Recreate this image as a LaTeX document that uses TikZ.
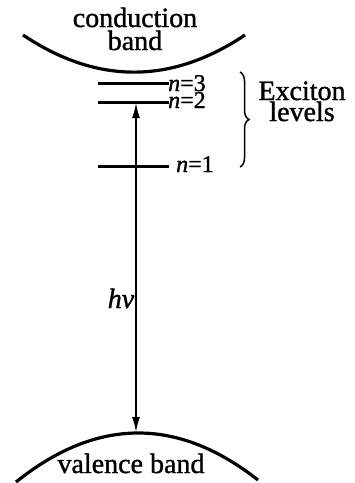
\documentclass[tikz,border=0pt]{standalone}
\usepackage{fontspec}
\setmainfont{Liberation Serif}[FakeBold=1.2]
\usetikzlibrary{arrows.meta,decorations.pathreplacing}
\begin{document}
\begin{tikzpicture}[x=1pt,y=-1pt,
  band/.style={line width=3.2pt},
  level/.style={line width=3pt},
  txt/.style={font=\fontsize{28}{30}\selectfont, inner sep=0pt, anchor=base},
  lab/.style={font=\fontsize{24}{26}\selectfont, inner sep=0pt, anchor=base west}]
\useasboundingbox (0,0) rectangle (355,483);
% bands
\coordinate (cbL) at (23,35);
\coordinate (cbR) at (245,35);
\draw[band] (cbL) .. controls (97,84.5) and (171,84.5) .. (cbR);
\node[txt] (cond) at (135,27) {conduction};
\node[txt] (cband) at (135,50) {band};
\coordinate (vbL) at (16,482);
\coordinate (vbR) at (258,480);
\draw[band] (vbL) .. controls (96.7,417.3) and (177.3,416.7) .. (vbR);
\node[txt] (val) at (131,473) {valence band};
% levels
\coordinate (l3a) at (98,83); \coordinate (l3b) at (169,83);
\coordinate (l2a) at (98,102); \coordinate (l2b) at (169,102);
\coordinate (l1a) at (98,166); \coordinate (l1b) at (169,166);
\draw[level] (l3a) -- (l3b);
\draw[level] (l2a) -- (l2b);
\draw[level] (l1a) -- (l1b);
\node[lab] (n3) at (168,91) {\textit{n}=3};
\node[lab] (n2) at (168,108) {\textit{n}=2};
\node[lab] (n1) at (176,172) {\textit{n}=1};
% transition arrow
\coordinate (aT) at (136,103);
\coordinate (aB) at (136,432);
\draw[line width=1.6pt,{Latex[length=15pt,width=8pt]}-{Latex[length=15pt,width=8pt]}] (aT) -- (aB);
\node[txt] (hv) at (121,308) {\textit{hν}};
% brace
\coordinate (brT) at (240,72);
\coordinate (brB) at (240,167);
\draw[line width=1.5pt,decorate,decoration={brace,amplitude=9pt}] (brT) -- (brB);
\node[txt] (exc) at (302,100) {Exciton};
\node[txt] (lev) at (302,121) {levels};
\end{tikzpicture}
\end{document}
